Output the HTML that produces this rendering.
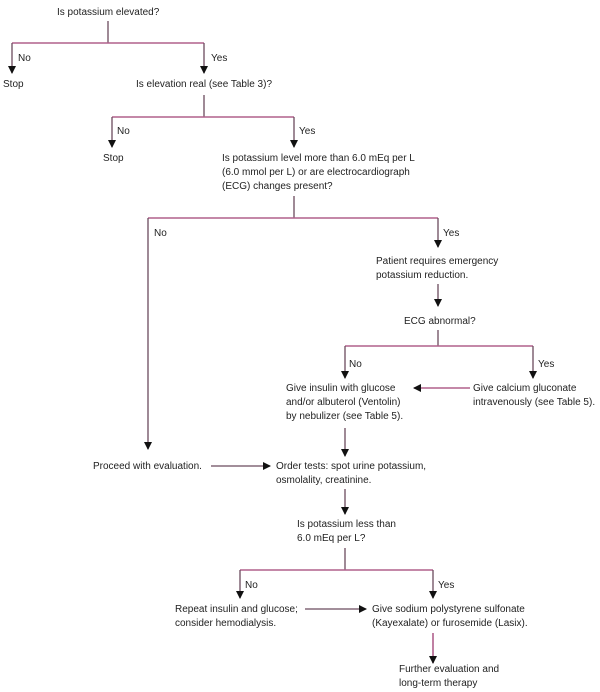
<!DOCTYPE html>
<html><head><meta charset="utf-8"><style>
html,body{margin:0;padding:0;background:#fff;}
svg{display:block;}
text{font-family:"Liberation Sans",sans-serif;font-size:10px;fill:#222;}
.v{stroke:#6b4a5e;stroke-width:1.3;fill:none;}
.h{stroke:#b0608c;stroke-width:1.6;fill:none;}
</style></head><body>
<svg width="600" height="692" xmlns="http://www.w3.org/2000/svg">
<defs><marker id="a" markerWidth="8" markerHeight="8" refX="7" refY="4" orient="auto" markerUnits="userSpaceOnUse"><path d="M0,0 L8,4 L0,8 Z" fill="#111"/></marker></defs>

<text x="57" y="15">Is potassium elevated?</text>
<line class="v" x1="108" y1="21" x2="108" y2="43"/>
<line class="h" x1="12" y1="43" x2="204" y2="43"/>
<line class="v" x1="12" y1="43" x2="12" y2="73" marker-end="url(#a)"/>
<line class="v" x1="204" y1="43" x2="204" y2="73" marker-end="url(#a)"/>
<text x="18" y="61">No</text><text x="211" y="61">Yes</text>
<text x="3" y="87">Stop</text>
<text x="136" y="87">Is elevation real (see Table 3)?</text>

<line class="v" x1="204" y1="95" x2="204" y2="117"/>
<line class="h" x1="112" y1="117" x2="294" y2="117"/>
<line class="v" x1="112" y1="117" x2="112" y2="147" marker-end="url(#a)"/>
<line class="v" x1="294" y1="117" x2="294" y2="147" marker-end="url(#a)"/>
<text x="117" y="134">No</text><text x="299" y="134">Yes</text>
<text x="103" y="161">Stop</text>
<text x="222" y="161">Is potassium level more than 6.0 mEq per L</text>
<text x="222" y="175">(6.0 mmol per L) or are electrocardiograph</text>
<text x="222" y="189">(ECG) changes present?</text>

<line class="v" x1="294" y1="196" x2="294" y2="218"/>
<line class="h" x1="148" y1="218" x2="438" y2="218"/>
<line class="v" x1="148" y1="218" x2="148" y2="449" marker-end="url(#a)"/>
<line class="v" x1="438" y1="218" x2="438" y2="247" marker-end="url(#a)"/>
<text x="154" y="236">No</text><text x="443" y="236">Yes</text>
<text x="376" y="264">Patient requires emergency</text>
<text x="376" y="278">potassium reduction.</text>
<line class="v" x1="438" y1="284" x2="438" y2="306" marker-end="url(#a)"/>
<text x="404" y="324">ECG abnormal?</text>

<line class="v" x1="438" y1="330" x2="438" y2="346"/>
<line class="h" x1="345" y1="346" x2="533" y2="346"/>
<line class="v" x1="345" y1="346" x2="345" y2="378" marker-end="url(#a)"/>
<line class="v" x1="533" y1="346" x2="533" y2="378" marker-end="url(#a)"/>
<text x="349" y="367">No</text><text x="538" y="367">Yes</text>
<text x="286" y="391">Give insulin with glucose</text>
<text x="286" y="405">and/or albuterol (Ventolin)</text>
<text x="286" y="419">by nebulizer (see Table 5).</text>
<text x="473" y="391">Give calcium gluconate</text>
<text x="473" y="405">intravenously (see Table 5).</text>
<line class="h" x1="470" y1="388" x2="414" y2="388" marker-end="url(#a)"/>

<line class="v" x1="345" y1="428" x2="345" y2="456" marker-end="url(#a)"/>
<text x="93" y="469">Proceed with evaluation.</text>
<line class="v" x1="211" y1="466" x2="270" y2="466" marker-end="url(#a)"/>
<text x="276" y="469">Order tests: spot urine potassium,</text>
<text x="276" y="483">osmolality, creatinine.</text>
<line class="v" x1="345" y1="489" x2="345" y2="514" marker-end="url(#a)"/>
<text x="297" y="527">Is potassium less than</text>
<text x="297" y="541">6.0 mEq per L?</text>

<line class="v" x1="345" y1="548" x2="345" y2="570"/>
<line class="h" x1="240" y1="570" x2="433" y2="570"/>
<line class="v" x1="240" y1="570" x2="240" y2="598" marker-end="url(#a)"/>
<line class="v" x1="433" y1="570" x2="433" y2="598" marker-end="url(#a)"/>
<text x="245" y="588">No</text><text x="438" y="588">Yes</text>
<text x="175" y="612">Repeat insulin and glucose;</text>
<text x="175" y="626">consider hemodialysis.</text>
<line class="v" x1="305" y1="609" x2="366" y2="609" marker-end="url(#a)"/>
<text x="372" y="612">Give sodium polystyrene sulfonate</text>
<text x="372" y="626">(Kayexalate) or furosemide (Lasix).</text>
<line class="h" x1="433" y1="633" x2="433" y2="663" marker-end="url(#a)"/>
<text x="399" y="672">Further evaluation and</text>
<text x="399" y="686">long-term therapy</text>
</svg>
</body></html>
